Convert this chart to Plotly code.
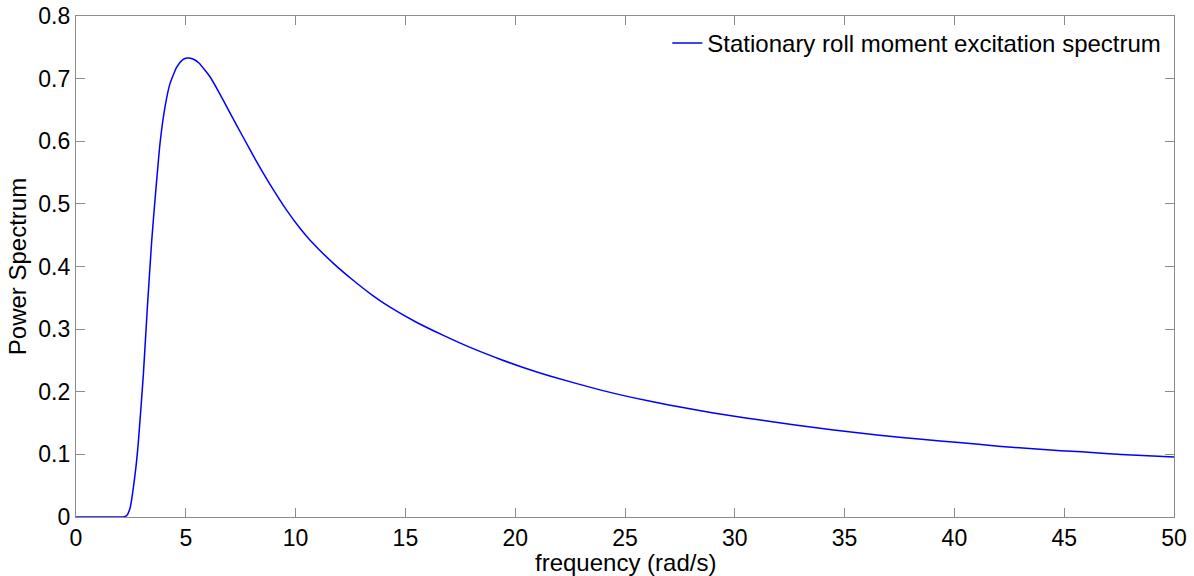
import plotly.graph_objects as go

# Frequency (rad/s) and power spectrum values of the roll moment excitation
frequency = [0, 1, 2, 2.15, 2.3, 2.46, 2.69, 2.84, 3.07, 3.25, 3.45, 3.57, 3.67,
             3.83, 4.05, 4.28, 4.58, 4.85, 5.07, 5.35, 5.6, 6.1, 6.56, 7.0, 7.62,
             8.23, 8.75, 9.59, 10.2, 10.66, 11.72, 12.55, 13.5, 14.3, 15.5, 16.73,
             18.0, 19.31, 20.5, 21.58, 23.86, 25.3, 27.0, 29.03, 30.5, 32.75, 34.5,
             36.48, 38.5, 40.2, 42.0, 43.9, 45.8, 47.6, 50.0]
power = [0, 0, 0, 0.0, 0.002, 0.014, 0.068, 0.120, 0.229, 0.335, 0.442, 0.495,
         0.536, 0.598, 0.654, 0.692, 0.718, 0.730, 0.733, 0.731, 0.725, 0.703,
         0.675, 0.646, 0.606, 0.567, 0.536, 0.490, 0.461, 0.442, 0.405, 0.380,
         0.354, 0.335, 0.311, 0.290, 0.270, 0.252, 0.237, 0.225, 0.203, 0.191,
         0.179, 0.166, 0.158, 0.147, 0.139, 0.131, 0.124, 0.119, 0.113, 0.108,
         0.104, 0.100, 0.096]

x_ticks = [0, 5, 10, 15, 20, 25, 30, 35, 40, 45, 50]
y_ticks = [0, 0.1, 0.2, 0.3, 0.4, 0.5, 0.6, 0.7, 0.8]
y_tick_text = ["0", "0.1", "0.2", "0.3", "0.4", "0.5", "0.6", "0.7", "0.8"]

font_family = "Liberation Sans, Arial, sans-serif"

fig = go.Figure()
fig.add_trace(go.Scatter(
    x=frequency, y=power, mode="lines",
    line=dict(color="#0000ff", width=1.5, shape="spline", smoothing=0.5),
    name="Stationary roll moment excitation spectrum",
))

axis_common = dict(
    showline=True, linecolor="#8c8c8c", linewidth=1.2,
    mirror="ticks", ticks="inside", ticklen=9, tickwidth=1, tickcolor="#8c8c8c",
    showgrid=False, zeroline=False, automargin=False,
    tickfont=dict(family=font_family, size=23, color="black"),
)

fig.update_xaxes(range=[0, 50], tickvals=x_ticks, **axis_common)
fig.update_yaxes(
    range=[0, 0.8], tickvals=y_ticks, ticktext=y_tick_text,
    title=dict(text="Power Spectrum", standoff=4,
               font=dict(family=font_family, size=24, color="black")),
    **axis_common,
)

# x-axis label placed just under the tick labels
fig.add_annotation(
    text="frequency (rad/s)", xref="paper", yref="paper", x=0.5, y=0,
    xanchor="center", yanchor="top", yshift=-30, showarrow=False,
    font=dict(family=font_family, size=24, color="black"),
)

fig.update_layout(
    width=1194, height=576,
    margin=dict(l=76, r=20, t=16, b=59),
    plot_bgcolor="white", paper_bgcolor="white",
    showlegend=True,
    legend=dict(x=0.993, y=0.99, xanchor="right", yanchor="top",
                bgcolor="rgba(0,0,0,0)", borderwidth=0,
                font=dict(family=font_family, size=24, color="black")),
)

fig.write_html("out.html")
